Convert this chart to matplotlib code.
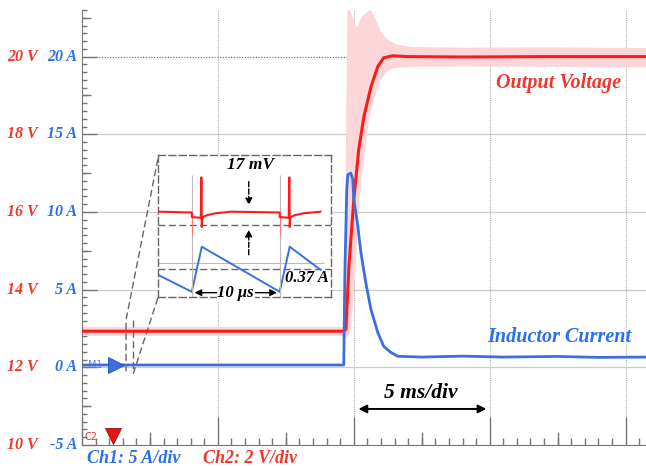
import matplotlib.pyplot as plt
from matplotlib.ticker import MultipleLocator

# time in ms, 0 = the grid line at the load step
v_time = [-10, -0.37, -0.29, -0.18, 0.0, 0.18, 0.37, 0.63, 0.88, 1.10, 1.43, 2.0, 4.0, 7.0, 10.75]
v_out = [12.93, 12.93, 12.98, 14.6, 16.32, 17.6, 18.45, 19.22, 19.74, 19.97, 20.02, 20.0, 19.99, 20.0, 20.0]

# light pink persistence band around the voltage trace
env_time = [-10, -0.37, -0.33, -0.26, -0.15, -0.05, 0.1, 0.18, 0.33, 0.55, 0.62, 0.80, 0.99, 1.18, 1.3, 1.54, 2.1, 4.0, 7.0, 10.75]
env_hi = [13.05, 13.05, 16.0, 21.2, 21.2, 21.0, 20.77, 20.9, 21.08, 21.2, 21.2, 20.95, 20.64, 20.48, 20.42, 20.33, 20.26, 20.24, 20.25, 20.23]
env_lo = [12.82, 12.82, 12.78, 12.8, 12.9, 13.6, 15.2, 16.3, 17.3, 18.45, 18.6, 19.1, 19.45, 19.6, 19.68, 19.73, 19.75, 19.76, 19.75, 19.74]

i_time = [-10, -0.37, -0.33, -0.26, -0.22, -0.11, -0.04, 0.0, 0.15, 0.26, 0.44, 0.63, 0.88, 1.10, 1.36, 1.62, 2.5, 4.0, 5.5, 7.5, 9.0, 10.75]
i_ind = [0.15, 0.15, 6.0, 11.4, 12.4, 12.5, 12.1, 10.8, 9.06, 7.4, 5.46, 3.73, 2.25, 1.35, 0.96, 0.71, 0.66, 0.72, 0.66, 0.70, 0.64, 0.66]

amp_ticks = [-5, 0, 5, 10, 15, 20]

# zoomed steady state (time in us)
zoom_red_t = [0, 3.64, 3.86, 3.87, 4.89, 4.95, 5.0, 5.06, 5.12, 5.6, 6.6, 8.3,
              13.64, 13.86, 13.87, 14.89, 14.95, 15.0, 15.06, 15.12, 15.6, 16.6, 18.5]
zoom_red_mv = [0, -1, -1, -7, -8, 45, -20, -9, -7, -4.5, -2, 0,
               -1, -1, -7, -8, 45, -20, -9, -7, -4.5, -2, 0]
zoom_blue_t = [0, 3.86, 5.0, 13.86, 15.0, 18.5]
zoom_blue_a = [-0.045, -0.185, 0.185, -0.185, 0.185, -0.004]
sw_times = [3.86, 13.86]

RED = '#ff1a1a'
BLUE = '#3b6fe0'
LRED = '#f2362b'
LBLUE = '#2a6ff0'
font = dict(family='Liberation Serif', weight='bold', style='italic')


def volt_to_div(v):
    # Ch2 2 V/div, 12 V at the 0 A line; Ch1 5 A/div
    return [(x - 12) * 2.5 for x in v]


fig = plt.figure(figsize=(6.46, 4.66), dpi=100)
ax = fig.add_axes([82 / 646, 21 / 466, 564 / 646, 435 / 466])
ax.set_xlim(-10, 10.75)
ax.set_ylim(-5, 23)

# grid
for t in [-5, 0, 5, 10]:
    ax.axvline(t, color='#aaaaaa', lw=0.8, ls=(0, (1, 1)), zorder=1)
for a in [0, 5, 10, 15]:
    ax.axhline(a, color='#cccccc', lw=0.9, zorder=1)
ax.axhline(20, color='#777777', lw=0.9, ls=(0, (1, 1.2)), zorder=1)

for s in ['top', 'right']:
    ax.spines[s].set_visible(False)
for s in ['left', 'bottom']:
    ax.spines[s].set_color('#777777')

ax.xaxis.set_major_locator(MultipleLocator(5))
ax.xaxis.set_minor_locator(MultipleLocator(0.5))
ax.yaxis.set_major_locator(MultipleLocator(5))
ax.yaxis.set_minor_locator(MultipleLocator(0.5))
ax.tick_params(axis='x', which='major', direction='in', length=20, width=1, color='#777777', labelbottom=False)
ax.tick_params(axis='x', which='minor', direction='in', length=5, width=1, color='#777777')
ax.tick_params(axis='y', which='major', direction='in', length=11, width=1, color='#777777', labelleft=False)
ax.tick_params(axis='y', which='minor', direction='in', length=3.5, width=1, color='#777777')
ax.vlines([-7.5, -2.5, 2.5, 7.5], 0, 13 / 435, transform=ax.get_xaxis_transform(), color='#777777', lw=1)
ax.hlines([-2.5, 2.5, 7.5, 12.5, 17.5, 22.5], 0, 9 / 564, transform=ax.get_yaxis_transform(), color='#777777', lw=1)

# traces
ax.fill_between(env_time, volt_to_div(env_lo), volt_to_div(env_hi), color='#fcd6d9', lw=0, zorder=2)
ax.plot(v_time, volt_to_div(v_out), color=RED, lw=2.2, zorder=4)
ax.plot(i_time, i_ind, color=BLUE, lw=2.0, zorder=4)

# axis labels
for a in amp_ticks:
    ax.text(-0.078, a, f'{12 + a * 0.4:.0f} V', transform=ax.get_yaxis_transform(), ha='right',
            va='center', color=LRED, fontsize=11.5, clip_on=False, **font)
    ax.text(-0.009, a, f'{a} A', transform=ax.get_yaxis_transform(), ha='right',
            va='center', color=LBLUE, fontsize=11.5, clip_on=False, **font)

ax.text(0.009, -0.03, 'Ch1: 5 A/div', transform=ax.transAxes, ha='left', va='center',
        color=LBLUE, fontsize=13, clip_on=False, **font)
ax.text(0.2145, -0.03, 'Ch2: 2 V/div', transform=ax.transAxes, ha='left', va='center',
        color=LRED, fontsize=13, clip_on=False, **font)

ax.text(5.22, 18.32, 'Output Voltage', color=LRED, fontsize=14.5, ha='left', va='center', **font)
ax.text(4.89, 1.96, 'Inductor Current', color=LBLUE, fontsize=14.5, ha='left', va='center', **font)

ax.annotate('', xy=(0.07, -2.68), xytext=(4.98, -2.68),
            arrowprops=dict(arrowstyle='<|-|>', color='black', lw=1.4, mutation_scale=12))
ax.text(2.46, -1.65, '5 ms/div', color='black', fontsize=15.5, ha='center', va='center', **font)

# channel markers
ax.plot(-8.75, 0.15, marker='>', ms=11, color=BLUE, mec='#2050b0', mew=0.6, zorder=6, clip_on=False)
ax.text(-9.52, 0.15, 'M1', color='#5a85e0', fontsize=7, ha='center', va='center')
ax.plot(-8.86, -4.4, marker='v', ms=11, color='#ee1111', mec='#991111', mew=0.6, zorder=6, clip_on=False)
ax.text(-9.67, -4.5, 'C2', color='#ee3333', fontsize=7, ha='center', va='center')

# zoom connectors
dash = dict(color='#666666', lw=1.0, ls=(0, (5, 2.5)), zorder=3)
ax.plot([-7.21, -8.38, -8.38], [13.4, 3.05, -0.3], **dash)
ax.plot([-7.21, -8.13], [4.47, -0.5], **dash)
ax.plot([-8.13, -8.13], [3.05, -0.3], **dash)

# zoom inset
bounds = [-7.21, 4.54, 6.36, 9.15]
ax_i = ax.inset_axes(bounds, transform=ax.transData)
ax_v = ax.inset_axes(bounds, transform=ax.transData)
ax_i.set_xlim(0, 19.66)
ax_v.set_xlim(0, 19.66)
ax_i.set_ylim(-0.226, 0.941)
ax_v.set_ylim(-111.4, 74.7)
for a_ in (ax_i, ax_v):
    a_.set_xticks([])
    a_.set_yticks([])
for s in ax_i.spines.values():
    s.set_linestyle((0, (5, 2.5)))
    s.set_color('#666666')
    s.set_linewidth(1.0)
for s in ax_v.spines.values():
    s.set_visible(False)
ax_v.patch.set_alpha(0)

ax_i.hlines(0.053, 0, 18.9, color='#bbbbbb', lw=0.8)
ax_i.axhline(0.0, color='#666666', lw=1.0, ls=(0, (5, 2.5)))
ax_i.plot(zoom_blue_t, zoom_blue_a, color=BLUE, lw=1.4)

ax_v.vlines(sw_times, -111.4, 48.5, color='#bbbbbb', lw=0.8)
ax_v.axhline(-17, color='#666666', lw=1.0, ls=(0, (5, 2.5)))
ax_v.vlines(sw_times, -30, 0, color='#ff7777', lw=0.8)
ax_v.plot(zoom_red_t, zoom_red_mv, color=RED, lw=1.5)

ax_v.text(10.57, 61.6, '17 mV', fontsize=12.5, ha='center', va='center', color='black', **font)
ax_v.annotate('', xy=(10.34, 5), xytext=(10.34, 43),
              arrowprops=dict(arrowstyle='-|>', color='black', lw=1, ls='--', mutation_scale=10))
ax_v.annotate('', xy=(10.34, -20), xytext=(10.34, -60),
              arrowprops=dict(arrowstyle='-|>', color='black', lw=1, ls='--', mutation_scale=10))
ax_v.annotate('', xy=(sw_times[0], -106), xytext=(sw_times[1], -106),
              arrowprops=dict(arrowstyle='<|-|>', color='black', lw=1, mutation_scale=10))
ax_v.text(8.86, -106, '10 \u03bcs', fontsize=12, ha='center', va='center', color='black',
          bbox=dict(facecolor='white', edgecolor='none', pad=0.5), **font)
ax_v.text(19.4, -86.5, '0.37 A', fontsize=12, ha='right', va='center', color='black', **font)

fig.savefig('out.png', dpi=100)
